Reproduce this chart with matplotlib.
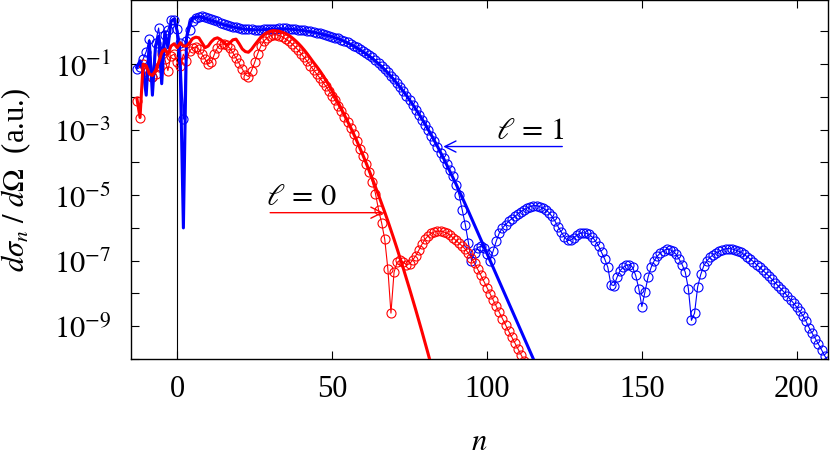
import numpy as np
import matplotlib
matplotlib.use('Agg')
import matplotlib.pyplot as plt
from matplotlib.ticker import FixedLocator, FuncFormatter, NullLocator

# ---- data (log10 of d sigma_n / d Omega) ----
# full calculation, l = 1 (blue circles), n = -13 .. 210
n_blue = list(range(-13, 211))
logs_blue = [
    -1.15, -1.1, -0.85, -0.62, -0.25, -1.38, -0.35, 0.1, -0.6, -0.1, 0.05, 0.33, 0.35,
    0.07, -0.35, -2.68, -0.3, 0.05, 0.32, 0.41, 0.45, 0.46, 0.44,
    0.41, 0.38, 0.34, 0.3, 0.26, 0.23, 0.2, 0.17, 0.14, 0.12,
    0.1, 0.08, 0.07, 0.06, 0.06, 0.05, 0.05, 0.05, 0.06, 0.06,
    0.07, 0.08, 0.08, 0.09, 0.09, 0.09, 0.08, 0.07, 0.06, 0.05,
    0.04, 0.03, 0.01, 0.0, -0.02, -0.04, -0.06, -0.08, -0.1, -0.13,
    -0.16, -0.19, -0.22, -0.26, -0.3, -0.34, -0.39, -0.44, -0.49, -0.54,
    -0.6, -0.66, -0.73, -0.8, -0.88, -0.96, -1.05, -1.14, -1.24, -1.35,
    -1.46, -1.58, -1.7, -1.83, -1.96, -2.1, -2.24, -2.39, -2.54, -2.7,
    -2.86, -3.02, -3.19, -3.36, -3.53, -3.7, -3.88, -4.06, -4.24, -4.43,
    -4.68, -5.0, -5.45, -5.9, -6.45, -7.0, -6.76, -6.6, -6.56, -6.62,
    -6.8, -7.0, -6.7, -6.4, -6.15, -6.0, -5.9, -5.8, -5.72, -5.65,
    -5.57, -5.5, -5.44, -5.39, -5.35, -5.32, -5.32, -5.35, -5.39, -5.45,
    -5.53, -5.65, -5.8, -5.97, -6.13, -6.28, -6.38, -6.38, -6.3, -6.22,
    -6.17, -6.15, -6.16, -6.2, -6.28, -6.4, -6.55, -6.75, -6.95, -7.2,
    -7.73, -7.76, -7.5, -7.3, -7.2, -7.14, -7.12, -7.2, -7.45, -7.85,
    -8.4, -7.95, -7.5, -7.2, -7.0, -6.86, -6.76, -6.69, -6.65, -6.66,
    -6.71, -6.8, -6.95, -7.12, -7.35, -7.85, -8.82, -8.6, -7.8, -7.42,
    -7.15, -7.0, -6.9, -6.82, -6.76, -6.71, -6.67, -6.64, -6.63, -6.64,
    -6.67, -6.7, -6.75, -6.81, -6.88, -6.95, -7.03, -7.12, -7.2, -7.29,
    -7.38, -7.47, -7.57, -7.67, -7.77, -7.87, -7.97, -8.08, -8.19, -8.3,
    -8.42, -8.55, -8.68, -8.85, -9.05, -9.22, -9.38, -9.55, -9.72, -9.9, -10.05,
]

# full calculation, l = 0 (red circles), n = -13 .. 112
n_red = list(range(-13, 113))
logs_red = [
    -2.12, -2.65, -1.0, -1.15, -1.3, -1.38, -1.3, -1.1, -0.7, -0.85, -1.2, -0.75, -0.7,
    -0.95, -1.05, -0.7, -0.9, -0.6, -0.5, -0.48, -0.55, -0.7, -0.85,
    -1.0, -0.95, -0.7, -0.5, -0.4, -0.38, -0.42, -0.52, -0.66, -0.82,
    -0.98, -1.15, -1.32, -1.38, -1.2, -0.95, -0.68, -0.45, -0.3, -0.2,
    -0.14, -0.11, -0.11, -0.13, -0.17, -0.23, -0.3, -0.38, -0.47, -0.57,
    -0.68, -0.8, -0.92, -1.05, -1.18, -1.3, -1.42, -1.55, -1.68, -1.82,
    -1.96, -2.11, -2.27, -2.44, -2.61, -2.78, -2.95, -3.12, -3.35, -3.58,
    -3.81, -4.05, -4.3, -4.6, -4.95, -5.45, -5.85, -6.35, -7.25, -8.6,
    -7.35, -7.05, -6.98, -7.05, -7.12, -7.1, -6.98, -6.85, -6.68, -6.5,
    -6.35, -6.24, -6.17, -6.12, -6.1, -6.1, -6.12, -6.16, -6.21, -6.3,
    -6.38, -6.47, -6.55, -6.65, -6.77, -6.92, -7.08, -7.26, -7.44, -7.63,
    -7.82, -8.01, -8.2, -8.39, -8.58, -8.77, -8.96, -9.15, -9.33, -9.51,
    -9.69, -9.87, -10.05,
]

# approximate model, l = 1 (thick blue line)
n_blue_line = list(range(-13, 21)) + list(range(22, 117, 2))
logs_blue_line = [
    -1.1, -0.9, -1.2, -1.95, -0.3, -1.95, -0.45, -0.15, -1.6, -0.02, -0.5, 0.3, 0.38,
    0.0, -1.2, -6.0, -0.2, 0.25, 0.4, 0.44, 0.44, 0.42, 0.39,
    0.35, 0.32, 0.29, 0.26, 0.23, 0.2, 0.18, 0.15, 0.13, 0.11, 0.09,
    0.06, 0.05, 0.04, 0.05, 0.06, 0.07, 0.07, 0.07, 0.05, 0.03,
    0.0, -0.03, -0.07, -0.12, -0.17, -0.23, -0.31, -0.4, -0.51, -0.63,
    -0.76, -0.91, -1.08, -1.27, -1.48, -1.71, -1.96, -2.23, -2.52, -2.83,
    -3.16, -3.51, -3.88, -4.27, -4.66, -5.07, -5.49, -5.92, -6.35, -6.78,
    -7.21, -7.64, -8.07, -8.5, -8.93, -9.36, -9.79, -10.22,
]

# approximate model, l = 0 (thick red line)
n_red_line = list(range(-13, 83))
logs_red_line = [
    -2.05, -2.63, -1.0, -1.05, -1.3, -1.35, -1.2, -0.95, -0.65, -0.55, -0.7, -0.45, -0.38,
    -0.5, -0.35, -0.45, -0.45, -0.35, -0.22, -0.18, -0.2, -0.35, -0.5,
    -0.45, -0.32, -0.23, -0.2, -0.25, -0.35, -0.42, -0.35, -0.26, -0.24,
    -0.38, -0.54, -0.62, -0.64, -0.55, -0.42, -0.3, -0.18, -0.1, -0.04,
    0.0, 0.02, 0.01, 0.0, -0.03, -0.07, -0.12, -0.19, -0.27, -0.36,
    -0.46, -0.57, -0.69, -0.82, -0.95, -1.07, -1.2, -1.34, -1.49, -1.65,
    -1.82, -2.0, -2.18, -2.37, -2.56, -2.75, -2.94, -3.14, -3.35, -3.57,
    -3.79, -4.02, -4.26, -4.5, -4.75, -5.0, -5.26, -5.52, -5.79, -6.07,
    -6.35, -6.64, -6.94, -7.24, -7.55, -7.86, -8.18, -8.5, -8.83, -9.16,
    -9.5, -9.84, -10.19,
]

x_ticks = [0, 50, 100, 150, 200]
y_exponents = list(range(-10, 2))

# label positions (n, log10 value)
lab1_text = (125, -3.04)
lab1_arrow = (124.3, 85.9, -3.517)
lab0_text = (40.3, -5.03)
lab0_arrow = (30.0, 66.6, -5.535)

plt.rcParams['font.family'] = 'serif'
plt.rcParams['font.serif'] = ['Liberation Serif', 'DejaVu Serif']
plt.rcParams['mathtext.fontset'] = 'stix'

fig = plt.figure(figsize=(8.3, 4.56), dpi=100)
ax = fig.add_axes([0.1575, 0.2105, 0.8398, 0.7873])

ax.axvline(0, color='black', lw=0.8, zorder=1)

circ = dict(marker='o', mfc='none', ms=6.5, mew=0.8, lw=0.8)
ax.plot(n_blue, 10.0 ** np.array(logs_blue), color='blue', zorder=2, **circ)
ax.plot(n_red, 10.0 ** np.array(logs_red), color='red', zorder=2.1, **circ)
ax.plot(n_blue_line, 10.0 ** np.array(logs_blue_line), color='blue', lw=2.2, zorder=3)
ax.plot(n_red_line, 10.0 ** np.array(logs_red_line), color='red', lw=2.2, zorder=3.1)

ax.set_yscale('log')
ax.set_xlim(-15, 210)
ax.set_ylim(1e-10, 9)

ax.xaxis.set_major_locator(FixedLocator(x_ticks))
ax.yaxis.set_major_locator(FixedLocator([10.0 ** e for e in y_exponents]))
ax.yaxis.set_minor_locator(NullLocator())


def ylab(v, pos):
    e = int(round(np.log10(v)))
    return r'$10^{%d}$' % e if e % 2 else ''


ax.yaxis.set_major_formatter(FuncFormatter(ylab))
ax.tick_params(which='both', direction='in', top=True, right=True,
               length=6, width=0.8, labelsize=22)
ax.tick_params(axis='x', pad=11)
ax.tick_params(axis='y', pad=14)
for s in ax.spines.values():
    s.set_linewidth(1.0)

xl = ax.set_xlabel(r'$n$', fontsize=22)
xl.set_va('center')
ax.xaxis.set_label_coords(0.5, -0.231)
ax.set_ylabel(r'$d\sigma_n\ /\ d\Omega$  (a.u.)', fontsize=22)
ax.yaxis.set_label_coords(-0.14, 0.5)

ax.annotate('', xy=(lab1_arrow[1], 10 ** lab1_arrow[2]), xytext=(lab1_arrow[0], 10 ** lab1_arrow[2]),
            arrowprops=dict(arrowstyle='->', color='blue', lw=1.0, mutation_scale=20,
                            shrinkA=0, shrinkB=0))
ax.text(lab1_text[0], 10 ** lab1_text[1], r'$\ell\, =\, 1$', ha='right', va='center', fontsize=22)
ax.annotate('', xy=(lab0_arrow[1], 10 ** lab0_arrow[2]), xytext=(lab0_arrow[0], 10 ** lab0_arrow[2]),
            arrowprops=dict(arrowstyle='->', color='red', lw=1.0, mutation_scale=20,
                            shrinkA=0, shrinkB=0))
ax.text(lab0_text[0], 10 ** lab0_text[1], r'$\ell\, =\, 0$', ha='center', va='center', fontsize=22)

fig.savefig('out.png', dpi=100)
